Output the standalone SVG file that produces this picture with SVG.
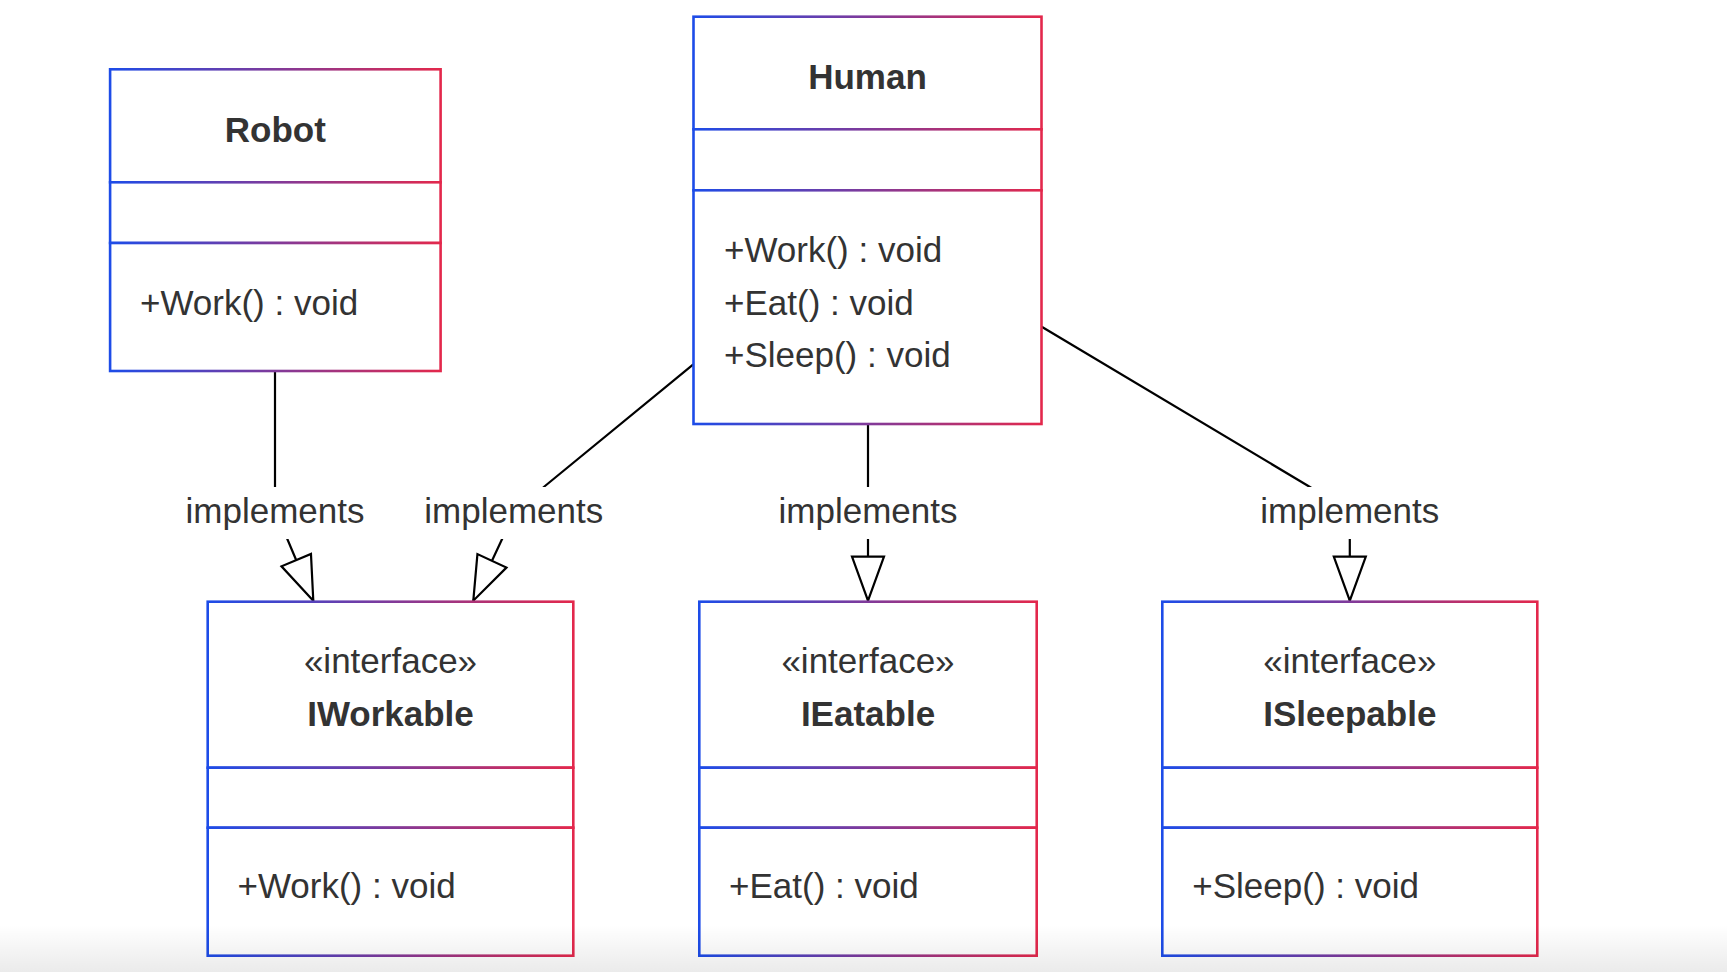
<svg xmlns="http://www.w3.org/2000/svg" width="1727" height="972" viewBox="0 0 1727 972">
<defs>
<linearGradient id="bg" x1="0" y1="0" x2="1" y2="0">
<stop offset="0" stop-color="#1d4ce8"/>
<stop offset="1" stop-color="#e3284c"/>
</linearGradient>
<linearGradient id="shade" x1="0" y1="0" x2="0" y2="1">
<stop offset="0" stop-color="#000" stop-opacity="0"/>
<stop offset="1" stop-color="#000" stop-opacity="0.08"/>
</linearGradient>
<marker id="tri" markerUnits="userSpaceOnUse" viewBox="0 0 48 36" refX="46" refY="18" markerWidth="48" markerHeight="36" orient="auto">
<path d="M2,2 L46,18 L2,34 Z" fill="#fff" stroke="#000" stroke-width="2.2" stroke-linejoin="miter"/>
</marker>
</defs>
<style>
.box{fill:#fff;stroke:url(#bg);stroke-width:2.6}
.t{font-family:"Liberation Sans",Arial,Helvetica,sans-serif;font-size:35px;fill:#333}
.b{font-weight:bold}
.c{text-anchor:middle}
.edge{fill:none;stroke:#000;stroke-width:2.2;marker-end:url(#tri)}
.lblbg{fill:#fff}
</style>
<rect x="0" y="0" width="1727" height="972" fill="#fff"/>

<g id="edges">
<path class="edge" d="M275,371 L275,497 Q275,510 281,524 L313.3,600.7"/>
<path class="edge" d="M693.3,364.3 L545,486 Q524,503 511,520 L473.3,600.7"/>
<path class="edge" d="M868,424 L868,600.7"/>
<path class="edge" d="M1041.7,326.7 L1308.3,486 Q1349.8,511 1349.8,530 L1349.8,600.7"/>
<g id="edge-labels">
<rect class="lblbg" x="184" y="487" width="182" height="52"/>
<text class="t c" x="275" y="523.3">implements</text>
<rect class="lblbg" x="423" y="487" width="182" height="52"/>
<text class="t c" x="513.8" y="523.3">implements</text>
<rect class="lblbg" x="777" y="487" width="182" height="52"/>
<text class="t c" x="868" y="523.3">implements</text>
<rect class="lblbg" x="1259" y="487" width="182" height="52"/>
<text class="t c" x="1349.8" y="523.3">implements</text>
</g>
</g>

<g id="Robot">
<rect class="box" x="110.1" y="69.3" width="330.5" height="113"/>
<rect class="box" x="110.1" y="182.3" width="330.5" height="60.7"/>
<rect class="box" x="110.1" y="243" width="330.5" height="128"/>
<text class="t b c" x="275.3" y="141.7">Robot</text>
<text class="t" x="140" y="315">+Work() : void</text>
</g>

<g id="Human">
<rect class="box" x="693.5" y="16.7" width="348" height="112.6"/>
<rect class="box" x="693.5" y="129.3" width="348" height="61"/>
<rect class="box" x="693.5" y="190.3" width="348" height="233.7"/>
<text class="t b c" x="867.5" y="89.3">Human</text>
<text class="t" x="724" y="261.7">+Work() : void</text>
<text class="t" x="724" y="314.5">+Eat() : void</text>
<text class="t" x="724" y="366.7">+Sleep() : void</text>
</g>

<g id="IWorkable">
<rect class="box" x="207.7" y="601.7" width="365.6" height="166"/>
<rect class="box" x="207.7" y="767.7" width="365.6" height="60"/>
<rect class="box" x="207.7" y="827.7" width="365.6" height="128"/>
<text class="t c" x="390.5" y="672.7">«interface»</text>
<text class="t b c" x="390.5" y="725.7">IWorkable</text>
<text class="t" x="237.5" y="898.3">+Work() : void</text>
</g>

<g id="IEatable">
<rect class="box" x="699.3" y="601.7" width="337.4" height="166"/>
<rect class="box" x="699.3" y="767.7" width="337.4" height="60"/>
<rect class="box" x="699.3" y="827.7" width="337.4" height="128"/>
<text class="t c" x="868" y="672.7">«interface»</text>
<text class="t b c" x="868" y="725.7">IEatable</text>
<text class="t" x="729" y="898.3">+Eat() : void</text>
</g>

<g id="ISleepable">
<rect class="box" x="1162.3" y="601.7" width="375" height="166"/>
<rect class="box" x="1162.3" y="767.7" width="375" height="60"/>
<rect class="box" x="1162.3" y="827.7" width="375" height="128"/>
<text class="t c" x="1349.8" y="672.7">«interface»</text>
<text class="t b c" x="1349.8" y="725.7">ISleepable</text>
<text class="t" x="1192.3" y="898.3">+Sleep() : void</text>
</g>

<rect x="0" y="925" width="1727" height="47" fill="url(#shade)"/>
</svg>
